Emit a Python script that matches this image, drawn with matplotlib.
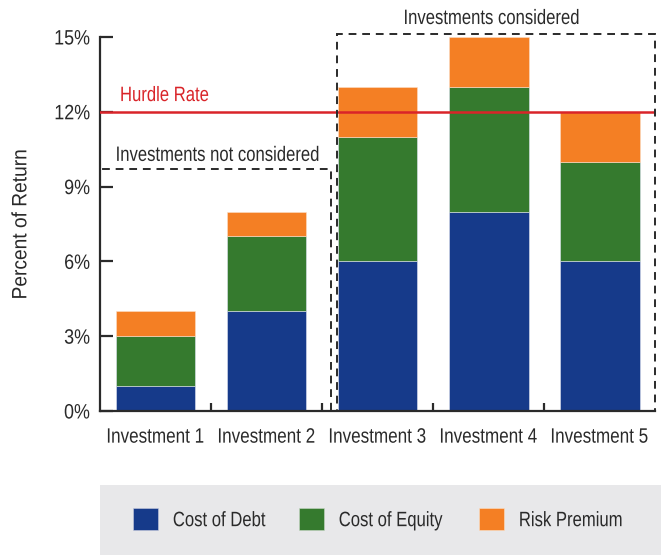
import matplotlib
matplotlib.use("Agg")
import matplotlib.pyplot as plt
from matplotlib.patches import Rectangle, Patch
from matplotlib.patheffects import AbstractPathEffect
from matplotlib.transforms import Affine2D
from matplotlib.ticker import FixedLocator

plt.rcParams['font.family'] = ['Liberation Sans', 'DejaVu Sans']

investments = ["Investment 1", "Investment 2", "Investment 3", "Investment 4", "Investment 5"]
cost_of_debt = [1, 4, 6, 8, 6]
cost_of_equity = [2, 3, 5, 5, 4]
risk_premium = [1, 1, 2, 2, 2]
hurdle_rate = 12
y_ticks = [0, 3, 6, 9, 12, 15]
y_tick_labels = ["0%", "3%", "6%", "9%", "12%", "15%"]

c_debt = "#163a8a"
c_equity = "#357a2e"
c_risk = "#f47f24"
c_red = "#d92429"
c_text = "#2a2a2a"


class Narrow(AbstractPathEffect):
    """squeeze text horizontally to look like a condensed face"""
    def __init__(self, s=0.8, anchor="center"):
        super().__init__()
        self.s = s
        self.anchor = anchor

    def draw_path(self, renderer, gc, tpath, affine, rgbFace=None):
        ext = tpath.get_extents()
        if self.anchor == "left":
            cx = 0
        elif self.anchor == "right":
            cx = ext.x1
        else:
            cx = (ext.x0 + ext.x1) / 2
        t = Affine2D().translate(-cx, 0).scale(self.s, 1).translate(cx, 0) + affine
        renderer.draw_path(gc, tpath, t, rgbFace)


fig = plt.figure(figsize=(6.61, 5.56), dpi=100)
ax = fig.add_axes([0.1513, 0.2608, 0.8397, 0.6727])

x = list(range(len(investments)))
w = 0.72
bottom2 = [a + b for a, b in zip(cost_of_debt, cost_of_equity)]
ax.bar(x, cost_of_debt, w, color=c_debt, edgecolor="#dfe3f0", linewidth=0.4, zorder=2)
ax.bar(x, cost_of_equity, w, bottom=cost_of_debt, color=c_equity, edgecolor="#dfe3f0", linewidth=0.4, zorder=2)
ax.bar(x, risk_premium, w, bottom=bottom2, color=c_risk, edgecolor="#fbe0c8", linewidth=0.4, zorder=2)

ax.set_xlim(-0.5, 4.5)
ax.set_ylim(0, 15)

# hurdle rate
ax.axhline(hurdle_rate, color=c_red, lw=1.8, zorder=3)
ax.text(-0.32, 12.43, "Hurdle Rate", color=c_red, fontsize=15, va="baseline", ha="left",
        path_effects=[Narrow(0.8, "left")])

# dashed boxes
ax.add_patch(Rectangle((-0.5, 0), 2.08, 9.7, fill=False, ls=(0, (4, 3)), lw=1.4,
                       edgecolor=c_text, clip_on=False, zorder=4))
ax.add_patch(Rectangle((1.635, 0), 2.865, 15.1, fill=False, ls=(0, (4, 3)), lw=1.4,
                       edgecolor=c_text, clip_on=False, zorder=4))
ax.text(0.563, 10.03, "Investments not considered", color=c_text, fontsize=15, ha="center",
        va="baseline", path_effects=[Narrow(0.8)])
ax.text(3.03, 15.52, "Investments considered", color=c_text, fontsize=15, ha="center",
        va="baseline", path_effects=[Narrow(0.8)])

# axes styling
for s in ["top", "right"]:
    ax.spines[s].set_visible(False)
for s in ["left", "bottom"]:
    ax.spines[s].set_linewidth(1.6)
    ax.spines[s].set_color(c_text)

ax.set_yticks(y_ticks)
for t in ax.set_yticklabels(y_tick_labels, fontsize=15, color=c_text):
    t.set_path_effects([Narrow(0.86, "right")])
ax.tick_params(axis="y", direction="in", length=9, width=1.6, color=c_text, pad=7)
ax.set_xticks(x)
for t in ax.set_xticklabels(investments, fontsize=15, color=c_text):
    t.set_path_effects([Narrow(0.82)])
ax.tick_params(axis="x", which="major", length=0, pad=12)
ax.xaxis.set_minor_locator(FixedLocator([0.5, 1.5, 2.5, 3.5]))
ax.tick_params(axis="x", which="minor", direction="in", length=6, width=1.6, color=c_text)
ax.set_ylabel("Percent of Return", fontsize=15, color=c_text, labelpad=13,
              path_effects=[Narrow(0.92)])

# legend panel
fig.patches.append(Rectangle((0.151, 0.002), 0.849, 0.126, transform=fig.transFigure,
                             facecolor="#e8e8ea", edgecolor="none", zorder=0))
handles = [Patch(facecolor=c_debt, edgecolor="#c8cde0", lw=0.4, label="Cost of Debt"),
           Patch(facecolor=c_equity, edgecolor="#c8d8c8", lw=0.4, label="Cost of Equity"),
           Patch(facecolor=c_risk, edgecolor="#fbe0c8", lw=0.4, label="Risk Premium")]
leg = fig.legend(handles=handles, loc="center left", bbox_to_anchor=(0.201, 0.066), ncol=3,
                 frameon=False, fontsize=15, handlelength=1.2, handleheight=1.2,
                 handletextpad=0.72, columnspacing=0.48, borderpad=0, borderaxespad=0)
for t in leg.get_texts():
    t.set_color(c_text)
    t.set_path_effects([Narrow(0.8, "left")])

fig.savefig("out.png", dpi=100)
